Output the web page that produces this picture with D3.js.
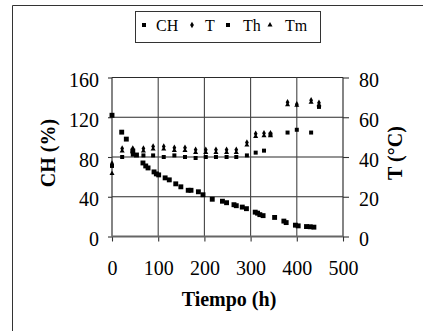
<!DOCTYPE html>
<html>
<head>
<meta charset="utf-8">
<script src="https://cdn.jsdelivr.net/npm/d3@7"></script>
<style>
	body { margin: 0; background: #fff; }
</style>
</head>
<body>
<div id="chart"></div>
<script>
'use strict';

// CH (%) vs time, left axis
var chTime = [0, 21, 31, 45, 53, 67, 73, 78, 91, 96, 101, 115, 124, 138, 149, 165, 171, 187, 197, 217, 239, 248, 264, 269, 282, 291, 310, 315, 320, 327, 352, 372, 377, 397, 403, 421, 429, 437];
var chValues = [122, 105, 98, 86, 82, 74, 71, 69, 65, 63, 62, 59, 57, 53, 50, 46.5, 46.5, 45, 42, 37.5, 35.5, 34, 32, 31, 29.6, 28, 24.5, 23.5, 22, 21, 19.2, 15.5, 14, 11.4, 10.7, 10, 9.8, 9.4];

// temperatures (ºC), right axis
var tempTime = [0, 22, 45, 68, 89, 112, 135, 158, 181, 203, 225, 248, 269, 292, 311, 329, 343, 380, 400, 431, 448];
var tValues = [36.7, 44.3, 44.3, 44.3, 45.3, 45.3, 44.7, 44.7, 43.7, 43.7, 43.7, 43.7, 43.7, 47.3, 51.7, 52, 52, 67.5, 66.5, 68.6, 67.3];
var thValues = [35.5, 40, 41.2, 40.8, 40.8, 40, 40.8, 40, 39.5, 40, 40, 40, 40, 40.8, 42.2, 43.2, 51.3, 52.3, 53.7, 52.3, 65.2];
var tmValues = [31.7, 43, 43, 43, 44, 44, 43.3, 43.3, 42.3, 42.3, 42.3, 42.3, 42.3, 46, 50.3, 50.7, 50.7, 66.3, 66, 67.5, 66.3];

var xTicks = [0, 100, 200, 300, 400, 500];
var leftTicks = [0, 40, 80, 120, 160];
var rightTicks = [0, 20, 40, 60, 80];
var legendNames = ['CH', 'T', 'Th', 'Tm'];

var serif = 'Liberation Serif';
var width = 423, height = 331;
var svg = d3.select('#chart').append('svg')
	.attr('width', width)
	.attr('height', height);

var x = d3.scaleLinear().domain([0, 500]).range([112, 343]);
var yL = d3.scaleLinear().domain([0, 160]).range([236.5, 77.5]);
var yR = d3.scaleLinear().domain([0, 80]).range([236.5, 77.5]);

// outer frame (only left and top edges show)
svg.append('path')
	.attr('d', 'M12.5,' + height + 'V5.5H' + width)
	.attr('fill', 'none')
	.attr('stroke', '#333')
	.attr('stroke-width', 1);

// gridlines
var grid = svg.append('g').attr('stroke', '#2a2a2a').attr('stroke-width', 1.1);
grid.selectAll('.h').data(leftTicks.slice(1)).enter().append('line')
	.attr('x1', x(0)).attr('x2', x(500))
	.attr('y1', function (d) { return yL(d); })
	.attr('y2', function (d) { return yL(d); });
grid.selectAll('.v').data(xTicks.slice(1, -1)).enter().append('line')
	.attr('x1', function (d) { return x(d); })
	.attr('x2', function (d) { return x(d); })
	.attr('y1', yL(0)).attr('y2', yL(160))
	.attr('stroke', '#444');

// axes
function styleAxis(g) {
	g.attr('font-family', serif);
	g.select('.domain').remove();
	g.selectAll('.tick line').attr('stroke', '#333').attr('stroke-width', 1.1);
	g.selectAll('text').attr('font-size', 20).attr('font-family', serif);
}

svg.append('g')
	.attr('transform', 'translate(' + x(0) + ',0)')
	.call(d3.axisLeft(yL).tickValues(leftTicks).tickSize(4).tickPadding(9))
	.call(styleAxis)
	.selectAll('text').attr('dy', '0.45em');

svg.append('g')
	.attr('transform', 'translate(' + x(500) + ',0)')
	.call(d3.axisRight(yR).tickValues(rightTicks).tickSize(6).tickPadding(10))
	.call(styleAxis)
	.selectAll('text').attr('dy', '0.45em');

svg.append('g')
	.attr('transform', 'translate(0,' + yL(0) + ')')
	.call(d3.axisBottom(x).tickValues(xTicks).tickSize(5).tickPadding(19))
	.call(styleAxis);

// axis lines
svg.append('line')
	.attr('x1', x(0)).attr('x2', x(0)).attr('y1', yL(0)).attr('y2', yL(160))
	.attr('stroke', '#333').attr('stroke-width', 1.2);
svg.append('line')
	.attr('x1', x(500)).attr('x2', x(500)).attr('y1', yL(0)).attr('y2', yL(160))
	.attr('stroke', '#333').attr('stroke-width', 1.2);
svg.append('line')
	.attr('x1', x(0)).attr('x2', x(500)).attr('y1', yL(0)).attr('y2', yL(0))
	.attr('stroke', '#666').attr('stroke-width', 1.8);

// axis titles
function title(sel) {
	return sel.attr('text-anchor', 'middle')
		.attr('font-size', 20).attr('font-weight', 'bold')
		.attr('font-family', serif);
}
svg.append('text')
	.attr('transform', 'translate(55,153) rotate(-90)')
	.call(title)
	.text('CH (%)');
svg.append('text')
	.attr('transform', 'translate(402,153) rotate(-90)')
	.call(title)
	.text('T (°C)');
svg.append('text')
	.attr('x', 229).attr('y', 306)
	.call(title)
	.text('Tiempo (h)');

// marker shapes
var sqBig = d3.symbol().type(d3.symbolSquare).size(24);
var sqSmall = d3.symbol().type(d3.symbolSquare).size(16);
var diamond = d3.symbol().type(d3.symbolDiamond).size(12);
var triangle = d3.symbol().type(d3.symbolTriangle).size(11);

function plotSeries(times, values, yScale, shape) {
	svg.append('g').selectAll('path')
		.data(times)
		.enter()
		.append('path')
		.attr('d', shape)
		.attr('fill', '#000')
		.attr('transform', function (d, i) { return 'translate(' + x(d) + ',' + yScale(values[i]) + ')'; });
}

plotSeries(tempTime, thValues, yR, sqSmall);
plotSeries(tempTime, tmValues, yR, triangle);
plotSeries(tempTime, tValues, yR, diamond);
plotSeries(chTime, chValues, yL, sqBig);

// legend
var legend = svg.append('g');
legend.append('rect')
	.attr('x', 135.5).attr('y', 11.5)
	.attr('width', 185).attr('height', 31)
	.attr('fill', '#fff').attr('stroke', '#333');
var legendShapes = [sqSmall, diamond, sqSmall, triangle];
var legendMarkX = [144, 192, 228, 270];
var legendTextX = [156, 205, 243, 285];
legendNames.forEach(function (name, i) {
	legend.append('path')
		.attr('d', legendShapes[i])
		.attr('transform', 'translate(' + legendMarkX[i] + ',25)');
	legend.append('text')
		.attr('x', legendTextX[i]).attr('y', 31)
		.attr('font-size', 16)
		.attr('font-family', serif)
		.text(name);
});
</script>
</body>
</html>
